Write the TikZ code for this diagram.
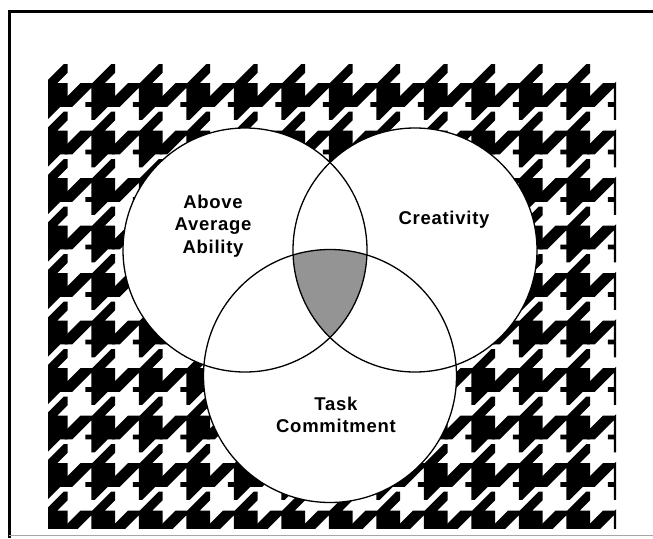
\documentclass[tikz,border=0pt]{standalone}
\usepackage{fontspec}
\newfontfamily\vennfont[LetterSpace=4]{Liberation Sans}
\usepackage{tikz}
\usetikzlibrary{positioning}

\begin{document}
\begin{tikzpicture}[
    x=1pt, y=-1pt,
    hound/.style={fill=black},
    venn/.style={draw=black, line width=1.3pt},
    core/.style={fill=black!42},
    venntext/.style={
        align=center,
        inner sep=0pt,
        font=\vennfont\bfseries\fontsize{18.5}{22.5}\selectfont
    },
    frame/.style={draw=black, line width=3pt}
]
\useasboundingbox (0,0) rectangle (653,538);
\fill[white] (0,0) rectangle (653,538);

% houndstooth background
\begin{scope}
\clip (48,60) rectangle (616,528);
\foreach \i in {0,...,12}{
  \foreach \j in {0,...,9}{
    \fill[hound, shift={(20+47.5*\i, 83+47.5*\j)}, scale=5.9375]
      (2.2,0) -- (4.2,0) -- (7.4,-3.2) -- (8,-3.2) -- (8,-1.7) -- (6.3,0)
      -- (8,0) -- (8,4) -- (6.8,4) -- (4.6,6.2) -- (4,6.2) -- (4,4)
      -- (3,4) -- (3,3.2) -- (4,3.2) -- (4,0.8) -- (0.8,4) -- (-0.5,4)
      -- (-0.5,2.7) -- cycle;
  }
}
\end{scope}

% the three circles
\coordinate (ability) at (245,250);
\coordinate (creativity) at (415,250);
\coordinate (task) at (330,376);

\fill[white] (ability) circle[radius=122];
\fill[white] (creativity) circle[radius=122];
\fill[white] (task) circle[radius=126.5];

\begin{scope}
  \clip (ability) circle[radius=122];
  \clip (creativity) circle[radius=122];
  \fill[core] (task) circle[radius=126.5];
\end{scope}

\draw[venn] (ability) circle[radius=122];
\draw[venn] (creativity) circle[radius=122];
\draw[venn] (task) circle[radius=126.5];

\node[venntext] (abilitytext) at (213,226) {Above\\Average\\Ability};
\node[venntext] (creativitytext) at (444,220) {Creativity};
\node[venntext] (tasktext) at (336,415) {Task\\Commitment};

% frame
\draw[frame] (9,538) -- (9,11) -- (653,11);
\draw[gray!70, line width=1pt] (9,535) -- (653,535);

\end{tikzpicture}
\end{document}
